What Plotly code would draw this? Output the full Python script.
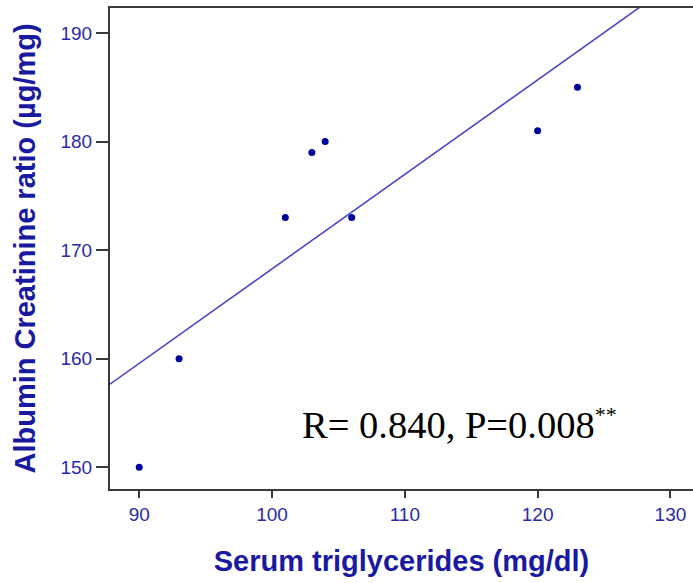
import numpy as np
import plotly.graph_objects as go

# Data
triglycerides = [90, 93, 101, 103, 104, 106, 120, 123]
acr = [150, 160, 173, 179, 180, 173, 181, 185]
x_ticks = [90, 100, 110, 120, 130]
y_ticks = [150, 160, 170, 180, 190]

x_range = [87.8, 131.7]
y_range = [148.0, 192.3]

slope, intercept = np.polyfit(triglycerides, acr, 1)
line_x = np.array(x_range)
line_y = slope * line_x + intercept

blue_text = "#2a2aa8"
fig = go.Figure()
fig.add_trace(go.Scatter(x=line_x, y=line_y, mode="lines",
                         line=dict(color="#4a4ac4", width=1.6), hoverinfo="skip"))
fig.add_trace(go.Scatter(x=triglycerides, y=acr, mode="markers",
                         marker=dict(color="#00009a", size=7)))

fig.add_annotation(x=0.326, y=0.136, xref="paper", yref="paper", showarrow=False,
                   text="R= 0.840, P=0.008<sup><span style='font-size:22px'>**</span></sup>",
                   font=dict(family="Liberation Serif", size=38.5, color="black"),
                   xanchor="left", yanchor="middle")

fig.update_layout(
    width=693, height=583, showlegend=False,
    margin=dict(l=110, r=0, t=8, b=94),
    plot_bgcolor="white", paper_bgcolor="white",
    font=dict(family="Liberation Sans"),
)
fig.update_xaxes(range=x_range, tickvals=x_ticks, showgrid=False, zeroline=False,
                 showline=True, mirror=True, linecolor="#3a3a3a", linewidth=2,
                 ticks="outside", ticklen=7, tickwidth=2, tickcolor="#3a3a3a",
                 tickfont=dict(size=19, color=blue_text),
                 title=dict(text="<b>Serum triglycerides (mg/dl)</b>",
                            font=dict(size=29, color="#1a1aa0"), standoff=27))
fig.update_yaxes(range=y_range, tickvals=y_ticks, showgrid=False, zeroline=False,
                 showline=True, linecolor="#3a3a3a", linewidth=2,
                 ticks="outside", ticklen=12, tickwidth=2, tickcolor="#3a3a3a",
                 tickfont=dict(size=19, color=blue_text),
                 title=dict(text="<b>Albumin Creatinine ratio (µg/mg)</b>",
                            font=dict(size=29, color="#1a1aa0"), standoff=16))

fig.write_html("out.html")
